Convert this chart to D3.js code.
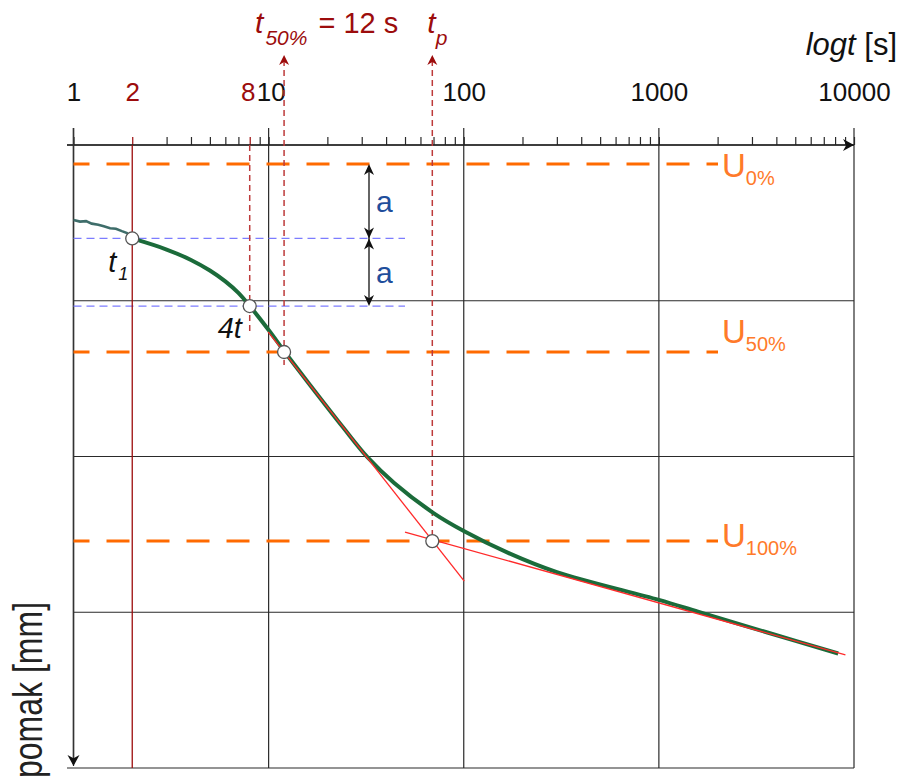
<!DOCTYPE html>
<html>
<head>
<meta charset="utf-8">
<script src="https://cdn.jsdelivr.net/npm/d3@7"></script>
<style>
  body { margin: 0; background: #fff; }
  svg { display: block; font-family: Arial, "Liberation Sans", sans-serif; }
</style>
</head>
<body>
<svg class="consolidation-chart"></svg>
<script>
// time axis (log t, seconds)
var gridTimes = [1, 10, 100, 1000, 10000];
var labelTimes = [1, 2, 8, 10, 100, 1000, 10000];
var labelTexts = ["1", "2", "8", "10", "100", "1000", "10000"];
var redTimes = [2, 8];
// displacement grid (mm, arbitrary units)
var gridDisp = [0, 1, 2, 3, 4];

// measured settlement curve: noisy start up to t1, then smooth
var noisyTime = [1, 1.08, 1.16, 1.24, 1.34, 1.43, 1.54, 1.65, 1.77, 1.88, 2];
var noisyDisp = [0.482, 0.492, 0.489, 0.505, 0.512, 0.521, 0.534, 0.538, 0.553, 0.565, 0.6];
var curveTime = [2, 3, 4, 5, 6, 7, 8, 10, 12, 16, 24, 32, 44, 70, 100, 170, 300, 1000, 1600, 3600, 8300];
var curveDisp = [0.6, 0.671, 0.738, 0.806, 0.876, 0.95, 1.034, 1.188, 1.323, 1.528, 1.811, 2.003, 2.17, 2.363, 2.478, 2.62, 2.742, 2.921, 2.998, 3.13, 3.265];

// tangents (start, end)
var tangentTime = [[9.94, 100.6], [50, 9040]];
var tangentDisp = [[1.2, 2.8], [2.485, 3.274]];

// consolidation levels
var uLevels = [0.122, 1.329, 2.543];
var uNames = ["0%", "50%", "100%"];

// marked points: t1, 4t1, t50, tp
var pointTime = [2, 8, 12, 69];
var pointDisp = [0.6, 1.034, 1.329, 2.543];

document.addEventListener("DOMContentLoaded", () => {
  var width = 901, height = 778;
  var axisY = 145, bottomY = 768;
  var darkRed = "#9c0c0c", dashRed = "#bd3a3a", orange = "#ff6a00";

  var x = d3.scaleLog().domain([1, 10000]).range([73.5, 854]);
  var y = d3.scaleLinear().domain([0, 4]).range([axisY, bottomY]);

  var chart = d3.select(".consolidation-chart")
    .attr("width", width)
    .attr("height", height);

  // notched arrow head, tip at (tx, ty), dir = "up" | "down" | "right"
  function arrowHead(tx, ty, dir, w, l) {
    var n = l * 0.3;
    if (dir == "up") return "M" + tx + "," + ty + "L" + (tx + w) + "," + (ty + l) + "L" + tx + "," + (ty + l - n) + "L" + (tx - w) + "," + (ty + l) + "Z";
    if (dir == "down") return "M" + tx + "," + ty + "L" + (tx + w) + "," + (ty - l) + "L" + tx + "," + (ty - l + n) + "L" + (tx - w) + "," + (ty - l) + "Z";
    return "M" + tx + "," + ty + "L" + (tx - l) + "," + (ty - w) + "L" + (tx - l + n) + "," + ty + "L" + (tx - l) + "," + (ty + w) + "Z";
  }

  // grid
  chart.append("g")
    .selectAll("line")
    .data(gridTimes)
    .enter().append("line")
      .attr("x1", (d) => x(d)).attr("x2", (d) => x(d))
      .attr("y1", 128).attr("y2", (d, i) => i == 0 ? bottomY - 2 : bottomY)
      .attr("stroke", "#2a2a2a").attr("stroke-width", 1.2);

  chart.append("g")
    .selectAll("line")
    .data(gridDisp)
    .enter().append("line")
      .attr("x1", (d, i) => (i == 0 || i == gridDisp.length - 1) ? 67 : x(1))
      .attr("x2", x(10000))
      .attr("y1", (d) => y(d)).attr("y2", (d) => y(d))
      .attr("stroke", "#2a2a2a").attr("stroke-width", 1.2);

  // top axis with minor ticks
  var tickAxis = chart.append("g")
    .attr("class", "x time-axis")
    .attr("transform", "translate(0," + axisY + ")")
    .call(d3.axisTop(x).tickValues(x.ticks()).tickSize(8).tickFormat(""));
  tickAxis.select(".domain").remove();
  tickAxis.selectAll(".tick line")
    .attr("stroke", (d) => redTimes.indexOf(d) >= 0 ? darkRed : "#2a2a2a")
    .attr("stroke-width", 1.2);

  var labelAxis = chart.append("g")
    .attr("class", "x label-axis")
    .attr("transform", "translate(0," + axisY + ")")
    .call(d3.axisTop(x).tickValues(labelTimes).tickSize(0).tickPadding(44)
      .tickFormat((d, i) => labelTexts[i]));
  labelAxis.select(".domain").remove();
  labelAxis.selectAll("text")
    .attr("font-size", 26)
    .attr("font-family", "Arial, 'Liberation Sans', sans-serif")
    .attr("fill", (d) => redTimes.indexOf(d) >= 0 ? darkRed : "#111")
    .attr("dx", (d) => d == 8 ? -2 : (d == 10 ? 2 : 0));

  // axis lines + arrows
  chart.append("line")
    .attr("x1", 67).attr("x2", x(10000))
    .attr("y1", axisY).attr("y2", axisY)
    .attr("stroke", "#222").attr("stroke-width", 1.5);
  chart.append("path")
    .attr("d", arrowHead(x(10000), axisY, "right", 6, 11))
    .attr("fill", "#111");
  chart.append("line")
    .attr("x1", x(1)).attr("x2", x(1))
    .attr("y1", 128).attr("y2", bottomY - 4)
    .attr("stroke", "#333").attr("stroke-width", 1.5);
  chart.append("path")
    .attr("d", arrowHead(x(1), bottomY - 2, "down", 6, 11))
    .attr("fill", "#111");

  // U levels
  chart.append("g")
    .selectAll("line")
    .data(uLevels)
    .enter().append("line")
      .attr("x1", x(1)).attr("x2", 718)
      .attr("y1", (d) => y(d)).attr("y2", (d) => y(d))
      .attr("stroke", orange).attr("stroke-width", 3)
      .attr("stroke-dasharray", "23,17").attr("stroke-dashoffset", 7);

  var uLabelDy = [13, -9, 6];
  var uLabel = chart.append("g")
    .selectAll("text")
    .data(uLevels)
    .enter().append("text")
      .attr("x", 722)
      .attr("y", (d, i) => y(d) + uLabelDy[i])
      .attr("fill", "#ff7a2a");
  uLabel.append("tspan").attr("font-size", 33).text("U");
  uLabel.append("tspan").attr("font-size", 20).attr("dy", 8).text((d, i) => uNames[i]);

  // blue helper lines at t1 and 4t1
  chart.append("g")
    .selectAll("line")
    .data(pointDisp.slice(0, 2))
    .enter().append("line")
      .attr("x1", x(1)).attr("x2", 405)
      .attr("y1", (d) => y(d)).attr("y2", (d) => y(d))
      .attr("stroke", "#7c7cff").attr("stroke-width", 1.2)
      .attr("stroke-dasharray", "8,5");

  // vertical markers
  chart.append("line")
    .attr("x1", x(2)).attr("x2", x(2))
    .attr("y1", axisY).attr("y2", bottomY)
    .attr("stroke", darkRed).attr("stroke-width", 1.3);

  var dashTops = [axisY, 60, 60];
  var dashBottoms = [333, 365, 550];
  chart.append("g")
    .selectAll("line")
    .data(pointTime.slice(1))
    .enter().append("line")
      .attr("x1", (d) => x(d)).attr("x2", (d) => x(d))
      .attr("y1", (d, i) => dashTops[i]).attr("y2", (d, i) => dashBottoms[i])
      .attr("stroke", dashRed).attr("stroke-width", 1.5)
      .attr("stroke-dasharray", "6,4");

  chart.append("g")
    .selectAll("path")
    .data(pointTime.slice(2))
    .enter().append("path")
      .attr("d", (d) => arrowHead(x(d), 55, "up", 5, 10))
      .attr("fill", darkRed);

  // "a" double arrows
  var aLevels = [uLevels[0], pointDisp[0], pointDisp[1]];
  var aX = 369;
  chart.append("line")
    .attr("x1", aX).attr("x2", aX)
    .attr("y1", y(aLevels[0]) + 2).attr("y2", y(aLevels[2]) - 2)
    .attr("stroke", "#111").attr("stroke-width", 1.3);
  var aHeads = [[aLevels[0], "up"], [aLevels[1], "down"], [aLevels[1], "up"], [aLevels[2], "down"]];
  chart.append("g")
    .selectAll("path")
    .data(aHeads)
    .enter().append("path")
      .attr("d", (d) => arrowHead(aX, y(d[0]), d[1], 5, 11))
      .attr("fill", "#111");
  chart.append("g")
    .selectAll("text")
    .data([0, 1])
    .enter().append("text")
      .attr("x", 376)
      .attr("y", (d) => (y(aLevels[d]) + y(aLevels[d + 1])) / 2 + 11)
      .attr("font-size", 30)
      .attr("fill", "#1f4e9c")
      .text("a");

  // curves
  var line = d3.line()
    .x((d) => x(d[0]))
    .y((d) => y(d[1]));

  chart.append("path")
    .datum(noisyTime.map((t, i) => [t, noisyDisp[i]]))
    .attr("d", line)
    .attr("fill", "none")
    .attr("stroke", "#3e6d6a").attr("stroke-width", 2.6);

  chart.append("path")
    .datum(curveTime.map((t, i) => [t, curveDisp[i]]))
    .attr("d", line.curve(d3.curveCatmullRom.alpha(0.5)))
    .attr("fill", "none")
    .attr("stroke", "#1b6b3a").attr("stroke-width", 4);

  var tangentLine = d3.line()
    .x((d) => x(d[0]))
    .y((d) => y(d[1]));
  chart.append("g")
    .selectAll("path")
    .data(tangentTime.map((ts, k) => ts.map((t, i) => [t, tangentDisp[k][i]])))
    .enter().append("path")
      .attr("d", tangentLine)
      .attr("fill", "none")
      .attr("stroke", "#ff2a2a").attr("stroke-width", 1.3);

  // points
  chart.append("g")
    .selectAll("circle")
    .data(pointTime)
    .enter().append("circle")
      .attr("cx", (d) => x(d))
      .attr("cy", (d, i) => y(pointDisp[i]))
      .attr("r", 6.5)
      .attr("fill", "#fff")
      .attr("stroke", "#555").attr("stroke-width", 1.3);

  // point labels
  var t1 = chart.append("text")
    .attr("x", x(pointTime[0]) - 24).attr("y", 272)
    .attr("font-style", "italic").attr("fill", "#111");
  t1.append("tspan").attr("font-size", 29).text("t");
  t1.append("tspan").attr("font-size", 18).attr("dx", 2).attr("dy", 8).text("1");

  chart.append("text")
    .attr("x", x(pointTime[1]) - 32).attr("y", 338)
    .attr("font-style", "italic").attr("font-size", 29).attr("fill", "#111")
    .text("4t");

  var t50 = chart.append("text")
    .attr("x", x(pointTime[2]) - 29).attr("y", 33)
    .attr("fill", darkRed);
  t50.append("tspan").attr("font-style", "italic").attr("font-size", 30).text("t");
  t50.append("tspan").attr("font-style", "italic").attr("font-size", 21).attr("dx", 2).attr("dy", 12).text("50%");
  t50.append("tspan").attr("font-size", 29).attr("dx", 11).attr("dy", -12).text("= 12 s");

  var tp = chart.append("text")
    .attr("x", x(pointTime[3]) - 5).attr("y", 33)
    .attr("fill", darkRed).attr("font-style", "italic");
  tp.append("tspan").attr("font-size", 30).text("t");
  tp.append("tspan").attr("font-size", 21).attr("dy", 12).text("p");

  // axis titles
  var xTitle = chart.append("text")
    .attr("x", 897).attr("y", 55)
    .attr("text-anchor", "end")
    .attr("font-size", 31)
    .attr("fill", "#111");
  xTitle.append("tspan").attr("font-style", "italic").text("logt");
  xTitle.append("tspan").text(" [s]");

  chart.append("text")
    .attr("transform", "translate(42," + height + ") rotate(-90) scale(1,1.25)")
    .attr("font-size", 32)
    .attr("fill", "#222")
    .text("pomak [mm]");
});
</script>
</body>
</html>
